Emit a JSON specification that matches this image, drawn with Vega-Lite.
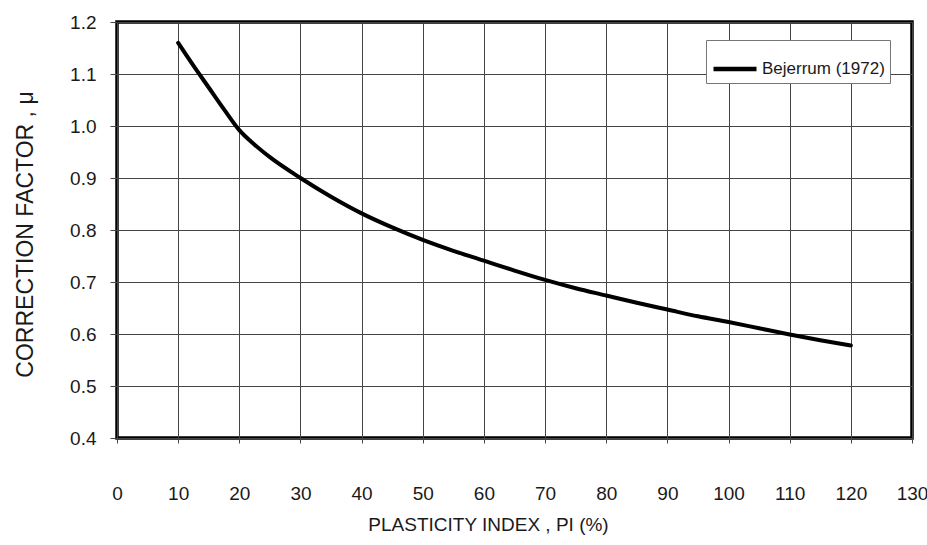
{
  "$schema": "https://vega.github.io/schema/vega-lite/v6.json",
  "width": 795,
  "height": 416,
  "autosize": "none",
  "padding": {"left": 117, "top": 22, "right": 15, "bottom": 107},
  "background": "white",
  "config": {
    "font": "Liberation Sans",
    "view": {"stroke": "black", "strokeWidth": 3.5}
  },
  "data": {
    "values": [
      {"pi": 10, "mu": 1.16, "series": "Bejerrum (1972)"},
      {"pi": 12.5, "mu": 1.116, "series": "Bejerrum (1972)"},
      {"pi": 15, "mu": 1.074, "series": "Bejerrum (1972)"},
      {"pi": 17.5, "mu": 1.032, "series": "Bejerrum (1972)"},
      {"pi": 20, "mu": 0.992, "series": "Bejerrum (1972)"},
      {"pi": 22.5, "mu": 0.964, "series": "Bejerrum (1972)"},
      {"pi": 25, "mu": 0.94, "series": "Bejerrum (1972)"},
      {"pi": 30, "mu": 0.9, "series": "Bejerrum (1972)"},
      {"pi": 35, "mu": 0.864, "series": "Bejerrum (1972)"},
      {"pi": 40, "mu": 0.832, "series": "Bejerrum (1972)"},
      {"pi": 45, "mu": 0.805, "series": "Bejerrum (1972)"},
      {"pi": 50, "mu": 0.781, "series": "Bejerrum (1972)"},
      {"pi": 55, "mu": 0.76, "series": "Bejerrum (1972)"},
      {"pi": 60, "mu": 0.741, "series": "Bejerrum (1972)"},
      {"pi": 65, "mu": 0.722, "series": "Bejerrum (1972)"},
      {"pi": 70, "mu": 0.704, "series": "Bejerrum (1972)"},
      {"pi": 75, "mu": 0.688, "series": "Bejerrum (1972)"},
      {"pi": 80, "mu": 0.674, "series": "Bejerrum (1972)"},
      {"pi": 85, "mu": 0.66, "series": "Bejerrum (1972)"},
      {"pi": 90, "mu": 0.647, "series": "Bejerrum (1972)"},
      {"pi": 95, "mu": 0.634, "series": "Bejerrum (1972)"},
      {"pi": 100, "mu": 0.623, "series": "Bejerrum (1972)"},
      {"pi": 105, "mu": 0.611, "series": "Bejerrum (1972)"},
      {"pi": 110, "mu": 0.599, "series": "Bejerrum (1972)"},
      {"pi": 115, "mu": 0.588, "series": "Bejerrum (1972)"},
      {"pi": 120, "mu": 0.578, "series": "Bejerrum (1972)"}
    ]
  },
  "mark": {"type": "line", "interpolate": "monotone", "strokeWidth": 4, "strokeCap": "round"},
  "encoding": {
    "x": {
      "field": "pi",
      "type": "quantitative",
      "scale": {"domain": [0, 130], "nice": false, "zero": false},
      "axis": {
        "title": "PLASTICITY INDEX , PI (%)",
        "titleFont": "Liberation Sans",
        "titleFontSize": 19,
        "titleFontWeight": "normal",
        "titleColor": "#1a1a1a",
        "titlePadding": 12,
        "titleX": 371,
        "values": [0, 10, 20, 30, 40, 50, 60, 70, 80, 90, 100, 110, 120, 130],
        "labelFontSize": 19,
        "labelColor": "#1a1a1a",
        "labelPadding": 41,
        "labelFlush": false,
        "labelOverlap": false,
        "tickSize": 5,
        "tickColor": "#444",
        "domain": false,
        "grid": true,
        "gridColor": "#444",
        "gridWidth": 1
      }
    },
    "y": {
      "field": "mu",
      "type": "quantitative",
      "scale": {"domain": [0.4, 1.2], "nice": false, "zero": false},
      "axis": {
        "title": "CORRECTION FACTOR , μ",
        "titleFont": "Liberation Sans",
        "titleFontSize": 23,
        "titleFontWeight": "normal",
        "titleColor": "#1a1a1a",
        "titlePadding": 32,
        "titleY": 212,
        "values": [0.4, 0.5, 0.6, 0.7, 0.8, 0.9, 1.0, 1.1, 1.2],
        "format": ".1f",
        "labelFontSize": 19,
        "labelColor": "#1a1a1a",
        "labelPadding": 14,
        "labelFlush": false,
        "labelOverlap": false,
        "tickSize": 7,
        "tickColor": "#444",
        "domain": false,
        "grid": true,
        "gridColor": "#444",
        "gridWidth": 1
      }
    },
    "color": {
      "field": "series",
      "type": "nominal",
      "scale": {"range": ["black"]},
      "legend": {
        "title": null,
        "orient": "none",
        "legendX": 589,
        "legendY": 18,
        "symbolType": "stroke",
        "symbolSize": 1850,
        "symbolStrokeWidth": 4.5,
        "labelFontSize": 17,
        "labelColor": "#1a1a1a",
        "fillColor": "white",
        "strokeColor": "#777",
        "padding": 5,
        "labelOffset": 3
      }
    }
  }
}
